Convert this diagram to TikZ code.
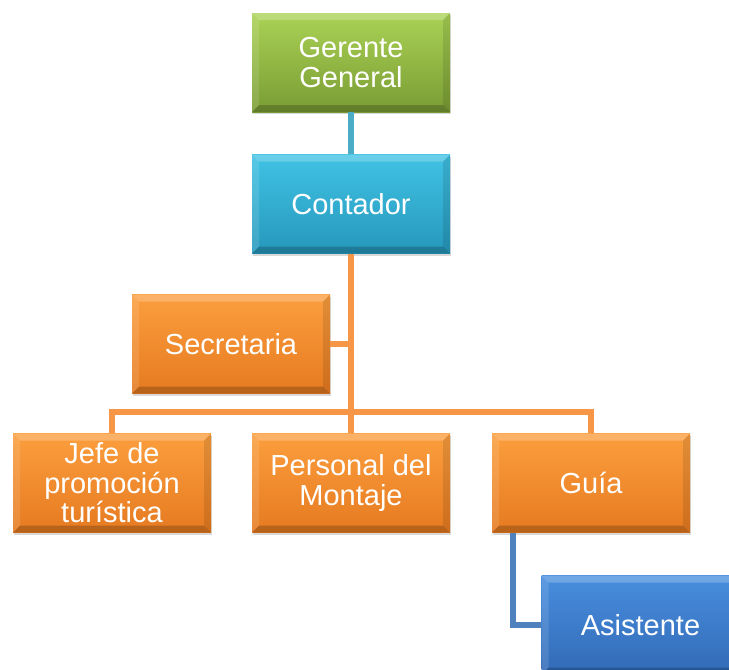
\documentclass[tikz,border=0pt]{standalone}
\usepackage{fontspec}
\setmainfont{Liberation Sans}
\usetikzlibrary{shadows,calc}
\definecolor{gtop}{RGB}{170,210,85}
\definecolor{gbot}{RGB}{122,156,52}
\definecolor{ctop}{RGB}{64,194,228}
\definecolor{cbot}{RGB}{38,152,188}
\definecolor{otop}{RGB}{251,158,62}
\definecolor{obot}{RGB}{230,122,32}
\definecolor{btop}{RGB}{72,142,222}
\definecolor{bbot}{RGB}{50,106,182}
\definecolor{lcyan}{RGB}{75,172,198}
\definecolor{lorange}{RGB}{247,150,70}
\definecolor{lblue}{RGB}{79,129,189}
\tikzset{
  orgbox/.style={minimum width=198pt, minimum height=99pt, inner sep=0pt,
    align=center, text=white, font=\fontsize{29}{29.5}\selectfont,
    drop shadow={opacity=0.3, shadow xshift=1pt, shadow yshift=-2pt},
    path picture={
      \fill[white,opacity=0.22] (path picture bounding box.north west) -- (path picture bounding box.north east)
        -- ([xshift=-7pt,yshift=-7pt]path picture bounding box.north east) -- ([xshift=7pt,yshift=-7pt]path picture bounding box.north west) -- cycle;
      \fill[white,opacity=0.12] (path picture bounding box.north west) -- ([xshift=7pt,yshift=-7pt]path picture bounding box.north west)
        -- ([xshift=7pt,yshift=7pt]path picture bounding box.south west) -- (path picture bounding box.south west) -- cycle;
      \fill[black,opacity=0.10] (path picture bounding box.north east) -- ([xshift=-7pt,yshift=-7pt]path picture bounding box.north east)
        -- ([xshift=-7pt,yshift=7pt]path picture bounding box.south east) -- (path picture bounding box.south east) -- cycle;
      \fill[black,opacity=0.2] (path picture bounding box.south west) -- ([xshift=7pt,yshift=7pt]path picture bounding box.south west)
        -- ([xshift=-7pt,yshift=7pt]path picture bounding box.south east) -- (path picture bounding box.south east) -- cycle;
    }},
  greenbox/.style={orgbox, top color=gtop, bottom color=gbot},
  cyanbox/.style={orgbox, top color=ctop, bottom color=cbot},
  orangebox/.style={orgbox, top color=otop, bottom color=obot},
  bluebox/.style={orgbox, top color=btop, bottom color=bbot},
  conn/.style={line width=5.5pt},
}
\begin{document}
\begin{tikzpicture}[x=1pt,y=-1pt]
\useasboundingbox (0,0) rectangle (729,670);
\coordinate (busL) at (112,412);
\node[greenbox] (gg) at (351,62.5) {Gerente\\General};
\node[cyanbox] (cont) at (351,204) {Contador};
\node[orangebox] (sec) at (231,344) {Secretaria};
\node[orangebox] (jefe) at (112,483) {Jefe de\\promoción\\turística};
\node[orangebox] (pers) at (351,483) {Personal del\\Montaje};
\node[orangebox] (guia) at (591,483) {Guía};
\node[bluebox] (asis) at (640.5,625) {Asistente};
\draw[conn,lcyan] (gg.south) -- (cont.north);
\draw[conn,lorange] (cont.south) -- (pers.north);
\draw[conn,lorange] (sec.east) -- (sec.east -| cont.south);
\draw[conn,lorange,line join=miter] (jefe.north) -- (jefe.north |- busL) -| (guia.north);
\draw[conn,lblue] ([xshift=21pt]guia.south west) |- (asis.west);
\end{tikzpicture}
\end{document}
